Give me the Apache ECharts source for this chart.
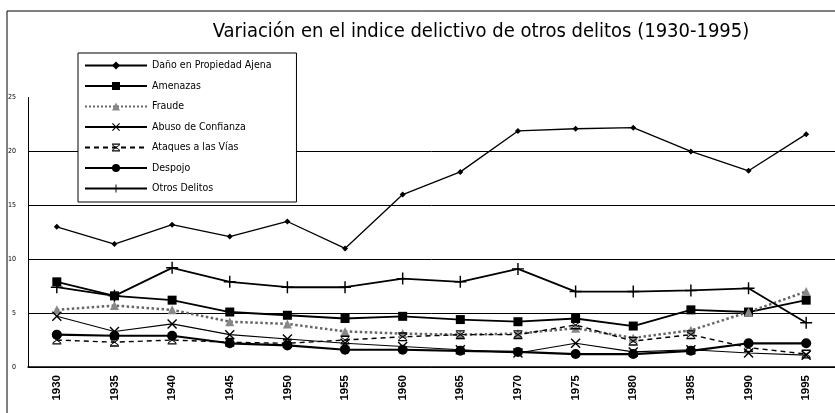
<!DOCTYPE html>
<html>
<head>
<meta charset="utf-8">
<script src="https://cdn.jsdelivr.net/npm/echarts@6/dist/echarts.min.js"></script>
<style>
  html, body { margin: 0; padding: 0; background: #fff; }
  #chart { width: 835px; height: 413px; }
</style>
</head>
<body>
<div id="chart"></div>
<script>
const years = ["1930", "1935", "1940", "1945", "1950", "1955", "1960", "1965", "1970", "1975", "1980", "1985", "1990", "1995"];

const danoPropiedad = [13.0, 11.4, 13.2, 12.1, 13.5, 11.0, 16.0, 18.1, 21.9, 22.1, 22.2, 20.0, 18.2, 21.6];
const amenazas = [7.9, 6.6, 6.2, 5.1, 4.8, 4.5, 4.7, 4.4, 4.2, 4.5, 3.8, 5.3, 5.1, 6.2];
const fraude = [5.3, 5.7, 5.3, 4.2, 4.0, 3.3, 3.1, 3.0, 3.1, 3.6, 2.7, 3.4, 5.1, 7.0];
const abusoConfianza = [4.7, 3.3, 4.0, 3.0, 2.6, 2.2, 1.9, 1.6, 1.3, 2.2, 1.4, 1.6, 1.3, 1.1];
const ataquesVias = [2.5, 2.3, 2.5, 2.3, 2.2, 2.5, 2.8, 3.0, 3.0, 3.9, 2.4, 3.0, 1.8, 1.2];
const despojo = [3.0, 2.9, 2.9, 2.2, 2.0, 1.6, 1.6, 1.5, 1.4, 1.2, 1.2, 1.5, 2.2, 2.2];
const otrosDelitos = [7.4, 6.6, 9.2, 7.9, 7.4, 7.4, 8.2, 7.9, 9.1, 7.0, 7.0, 7.1, 7.3, 4.1];

const symX = "path://M0,1L1,0L5,4L9,0L10,1L6,5L10,9L9,10L5,6L1,10L0,9L4,5Z";
const symPlus = "path://M4.4,0H5.6V4.4H10V5.6H5.6V10H4.4V5.6H0V4.4H4.4Z";
const symStar = "path://M0,0H10V1.5H0Z M0,8.5H10V10H0Z M1,1.5L5,4.4L9,1.5L9.8,2.3L5.9,5L9.8,7.7L9,8.5L5,5.6L1,8.5L0.2,7.7L4.1,5L0.2,2.3Z";

const narrow = "'DejaVu Sans Condensed', 'Liberation Sans', Arial, sans-serif";

const chart = echarts.init(document.getElementById("chart"));

function line(name, data, opts) {
  return Object.assign({
    name: name,
    type: "line",
    data: data,
    symbolSize: 8,
    itemStyle: { color: "#000" },
    lineStyle: { color: "#000", width: 1.5 },
    z: 3
  }, opts);
}

chart.setOption({
  animation: false,
  textStyle: { fontFamily: narrow },
  title: {
    text: "Variación en el indice delictivo de otros delitos (1930-1995)",
    left: 476,
    textAlign: "center",
    top: 17,
    textStyle: { fontSize: 20, fontWeight: "normal", color: "#000", fontFamily: narrow }
  },
  legend: {
    orient: "vertical",
    left: 78,
    top: 53,
    itemWidth: 62,
    itemHeight: 10,
    itemGap: 9.5,
    padding: [7, 25, 8, 6],
    backgroundColor: "#fff",
    borderColor: "#000",
    borderWidth: 1,
    textStyle: { fontSize: 10.5, color: "#000", fontFamily: narrow },
    data: ["Daño en Propiedad Ajena", "Amenazas", "Fraude", "Abuso de Confianza", "Ataques a las Vías", "Despojo", "Otros Delitos"]
  },
  graphic: [{
    type: "rect",
    shape: { x: 7, y: 11, width: 900, height: 500 },
    style: { fill: "none", stroke: "#000", lineWidth: 1 },
    silent: true
  }],
  grid: { left: 28, width: 810, top: 97.5, bottom: 46 },
  xAxis: {
    type: "category",
    data: years,
    axisLine: { lineStyle: { color: "#000", width: 1.5 } },
    axisTick: { show: false },
    axisLabel: { rotate: 90, fontSize: 11.5, fontWeight: "bold", color: "#000", margin: 8, fontFamily: "'Liberation Sans', Arial" }
  },
  yAxis: {
    type: "value",
    min: 0,
    max: 25,
    interval: 5,
    axisLine: { show: true, lineStyle: { color: "#000", width: 1 } },
    axisTick: { show: false },
    axisLabel: { fontSize: 7, color: "#000", margin: 12 },
    splitLine: { showMaxLine: false, lineStyle: { color: "#000", width: 1 } }
  },
  series: [
    line("Daño en Propiedad Ajena", danoPropiedad, { symbol: "diamond", symbolSize: 6, lineStyle: { color: "#000", width: 1.3 } }),
    line("Amenazas", amenazas, { symbol: "rect", symbolSize: 9, lineStyle: { color: "#000", width: 1.8 } }),
    line("Fraude", fraude, { symbol: "triangle", symbolSize: 9, itemStyle: { color: "#888" }, lineStyle: { color: "#666", width: 2.5, type: "dotted" } }),
    line("Abuso de Confianza", abusoConfianza, { symbol: symX, symbolSize: 10, lineStyle: { color: "#000", width: 1.1 } }),
    line("Ataques a las Vías", ataquesVias, { symbol: symStar, symbolSize: 9, lineStyle: { color: "#000", width: 1.4, type: [5, 4] } }),
    line("Despojo", despojo, { symbol: "circle", symbolSize: 10, lineStyle: { color: "#000", width: 2.2 } }),
    line("Otros Delitos", otrosDelitos, { symbol: symPlus, symbolSize: 12, lineStyle: { color: "#000", width: 1.8 } })
  ]
});
</script>
</body>
</html>
